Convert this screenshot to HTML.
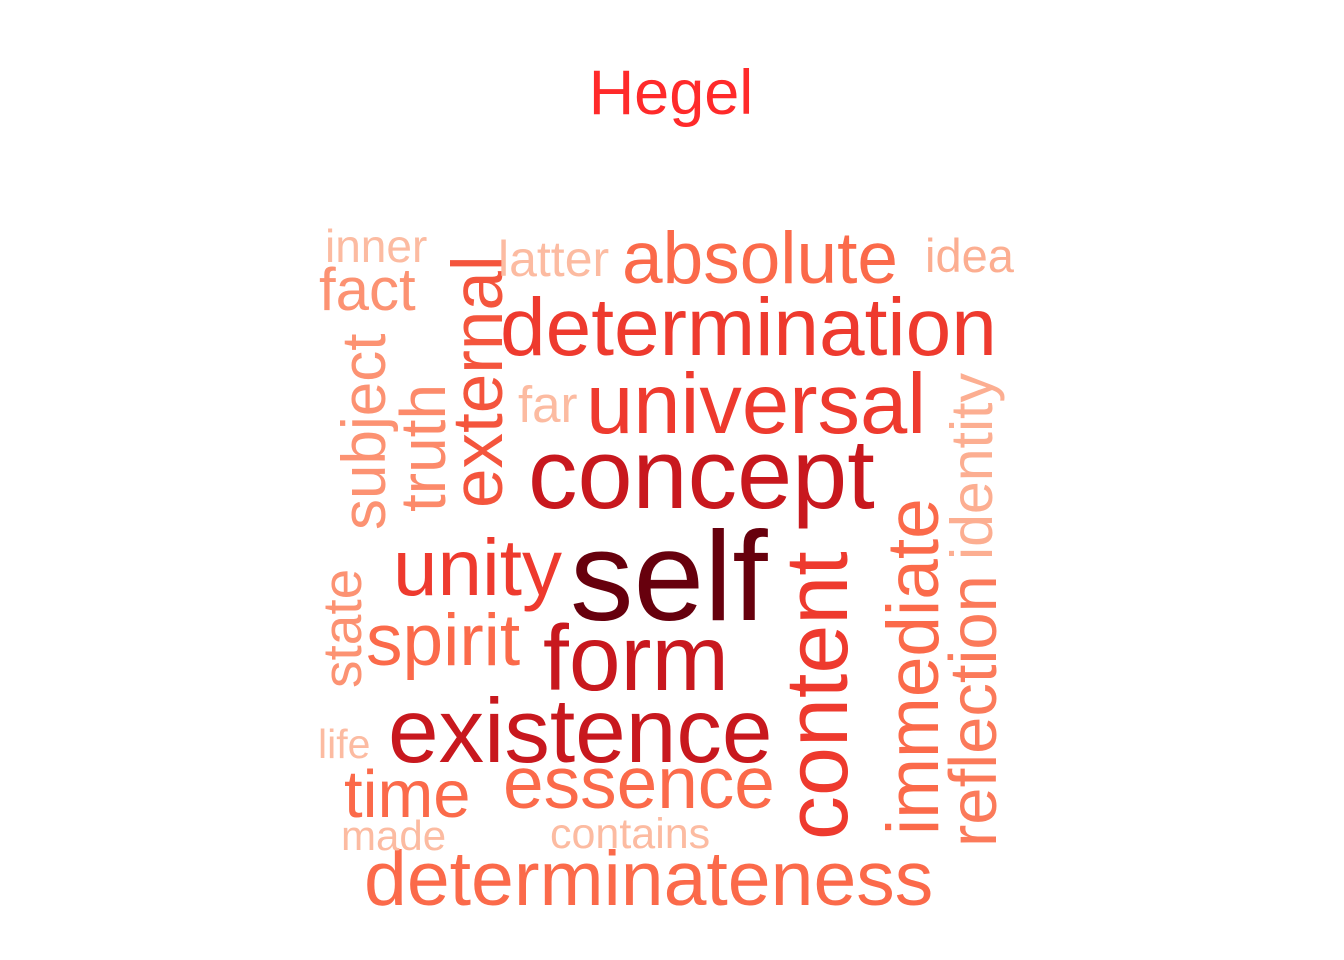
<!DOCTYPE html>
<html><head><meta charset="utf-8"><style>
html,body{margin:0;padding:0;background:#fff;}
svg{display:block;font-family:"Liberation Sans",Arial,sans-serif;}
</style></head><body>
<svg id="cloud" width="1344" height="960" viewBox="0 0 1344 960">
<text x="671" y="114" text-anchor="middle" font-size="63" fill="#ff2a2a">Hegel</text>
</svg>
<script>
const words = ["self","concept","form","existence","content","determination","universal","unity","determinateness","absolute","spirit","essence","immediate","external","reflection","time","truth","subject","fact","identity","state","far","latter","idea","inner","life","made","contains"];
const freqs = [127,99,93,91,88,82,85,80,77,73,73,73,73,71,67,67,64,62,60,59,55,51,50,47,46,41,42,43];
const colors = ["#67000d","#c8181e","#c8181e","#c8181e","#ee3a2e","#ee3a2e","#ee3a2e","#ee3a2e","#fb6a4a","#fb6a4a","#fb6a4a","#fb6a4a","#fb6a4a","#f4553d","#fb7a5a","#fb6a4a","#fc8a6a","#fc9272","#fc9272","#fcae91","#fc9272","#fcbba1","#fcbba1","#fcae91","#fcbba1","#fcbba1","#fcbba1","#fcbba1"];
// layout: [x, baselineY, rotated(1)]
const layout = [[570,620,0],[528,508,0],[543,690,0],[388,762,0],[847,840,1],[500,355,0],[586,433,0],[393,595,0],[364,905,0],[622,283,0],[366,665,0],[503,808,0],[938,835,1],[502,508,1],[996,847,1],[344,817,0],[445,512,1],[385,530,1],[319,310,0],[992,560,1],[361,688,1],[518,422,0],[498,276,0],[925,272,0],[325,262,0],[318,758,0],[341,850,0],[550,848,0]];
const svg = document.getElementById('cloud');
const ns = 'http://www.w3.org/2000/svg';
function sizeScale(f){ return f; }
words.forEach((w,i)=>{
  const t = document.createElementNS(ns,'text');
  
  
  const [x,y,r] = layout[i];
  t.setAttribute('font-size', sizeScale(freqs[i]));
  t.setAttribute('fill', colors[i]);
  if(r){ t.setAttribute('transform','translate('+x+','+y+') rotate(-90)'); }
  else { t.setAttribute('x',x); t.setAttribute('y',y); }
  t.textContent = w;
  svg.appendChild(t);
});
</script>
</body></html>
